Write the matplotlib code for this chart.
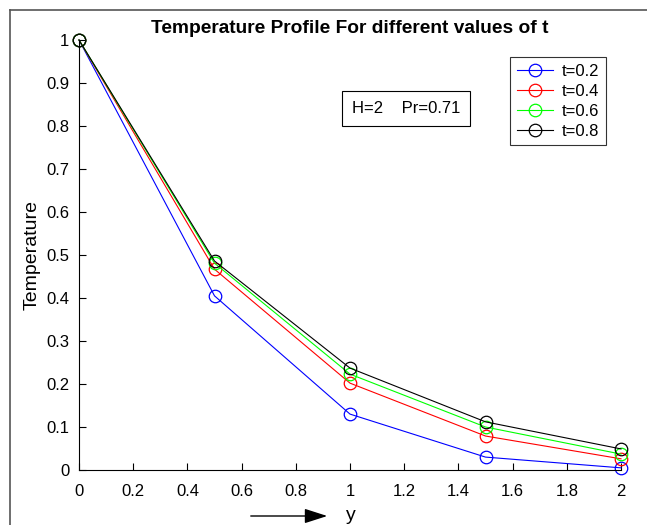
import matplotlib
matplotlib.use("Agg")
import matplotlib.pyplot as plt
from matplotlib.lines import Line2D

plt.rcParams['font.family'] = ['Liberation Sans', 'DejaVu Sans']

y_vals = [0, 0.5, 1.0, 1.5, 2.0]
t_labels = ["t=0.2", "t=0.4", "t=0.6", "t=0.8"]
temp_t02 = [1.0, 0.405, 0.130, 0.030, 0.005]
temp_t04 = [1.0, 0.467, 0.202, 0.079, 0.026]
temp_t06 = [1.0, 0.481, 0.223, 0.100, 0.037]
temp_t08 = [1.0, 0.486, 0.237, 0.112, 0.049]
series = [temp_t02, temp_t04, temp_t06, temp_t08]
colors = ["#0000ff", "#ff0000", "#00ff00", "#000000"]
xticks = [0, 0.2, 0.4, 0.6, 0.8, 1.0, 1.2, 1.4, 1.6, 1.8, 2.0]
yticks = [0, 0.1, 0.2, 0.3, 0.4, 0.5, 0.6, 0.7, 0.8, 0.9, 1.0]

W, H = 647, 525
fig = plt.figure(figsize=(W / 100, H / 100), dpi=100)
ax = fig.add_axes([79 / W, (H - 470) / H, (621 - 79) / W, (470 - 40) / H])

for vals, c, lab in zip(series, colors, t_labels):
    ax.plot(y_vals, vals, color=c, lw=0.8, marker='o', markersize=9,
            markerfacecolor='none', markeredgecolor=c, markeredgewidth=0.9,
            label=lab, clip_on=False)

ax.set_xlim(0, 2)
ax.set_ylim(0, 1)
ax.set_xticks(xticks)
ax.set_xticklabels(["0", "0.2", "0.4", "0.6", "0.8", "1", "1.2", "1.4", "1.6", "1.8", "2"])
ax.set_yticks(yticks)
ax.set_yticklabels(["0", "0.1", "0.2", "0.3", "0.4", "0.5", "0.6", "0.7", "0.8", "0.9", "1"])
ax.tick_params(direction='in', length=5, width=0.8, labelsize=12)
ax.tick_params(axis='x', pad=10)
ax.tick_params(axis='y', pad=7)
for s in ['top', 'right']:
    ax.spines[s].set_visible(False)
for s in ['left', 'bottom']:
    ax.spines[s].set_linewidth(0.8)

ax.set_title("Temperature Profile For different values of t", fontsize=13.8,
             fontweight='bold', pad=5)
ax.set_ylabel("Temperature", fontsize=14)
ax.yaxis.set_label_coords(-(79 - 41) / 542, 0.5)

leg = ax.legend(loc='upper right', bbox_to_anchor=((606 - 79) / (621 - 79), (470 - 57) / 430),
                fontsize=12, frameon=True, fancybox=False, edgecolor='black',
                handlelength=2.2, borderpad=0.4, labelspacing=0.3, handletextpad=0.5,
                borderaxespad=0)
leg.get_frame().set_linewidth(0.8)

ax.text((406 - 79) / 542, (470 - 108) / 430, "H=2    Pr=0.71", transform=ax.transAxes,
        ha='center', va='center', fontsize=12,
        bbox=dict(boxstyle='square,pad=0.6', facecolor='white', edgecolor='black', linewidth=0.8))

# x label with arrow
fig.text(351 / W, 1 - 515 / H, "y", ha='center', va='center', fontsize=14)
fig.patches.append(matplotlib.patches.FancyArrowPatch(
    (248 / W, 1 - 516 / H), (330 / W, 1 - 516 / H), transform=fig.transFigure,
    arrowstyle='-|>,head_length=14,head_width=4.5', color='black', lw=1.0,
    mutation_scale=1))

# outer screenshot frame
fig.add_artist(Line2D([10 / W, 10 / W], [0, 1 - 10 / H], transform=fig.transFigure,
                      color='#555555', lw=1.2))
fig.add_artist(Line2D([10 / W, 1], [1 - 10 / H, 1 - 10 / H], transform=fig.transFigure,
                      color='#555555', lw=1.2))

fig.savefig("out.png", dpi=100)
